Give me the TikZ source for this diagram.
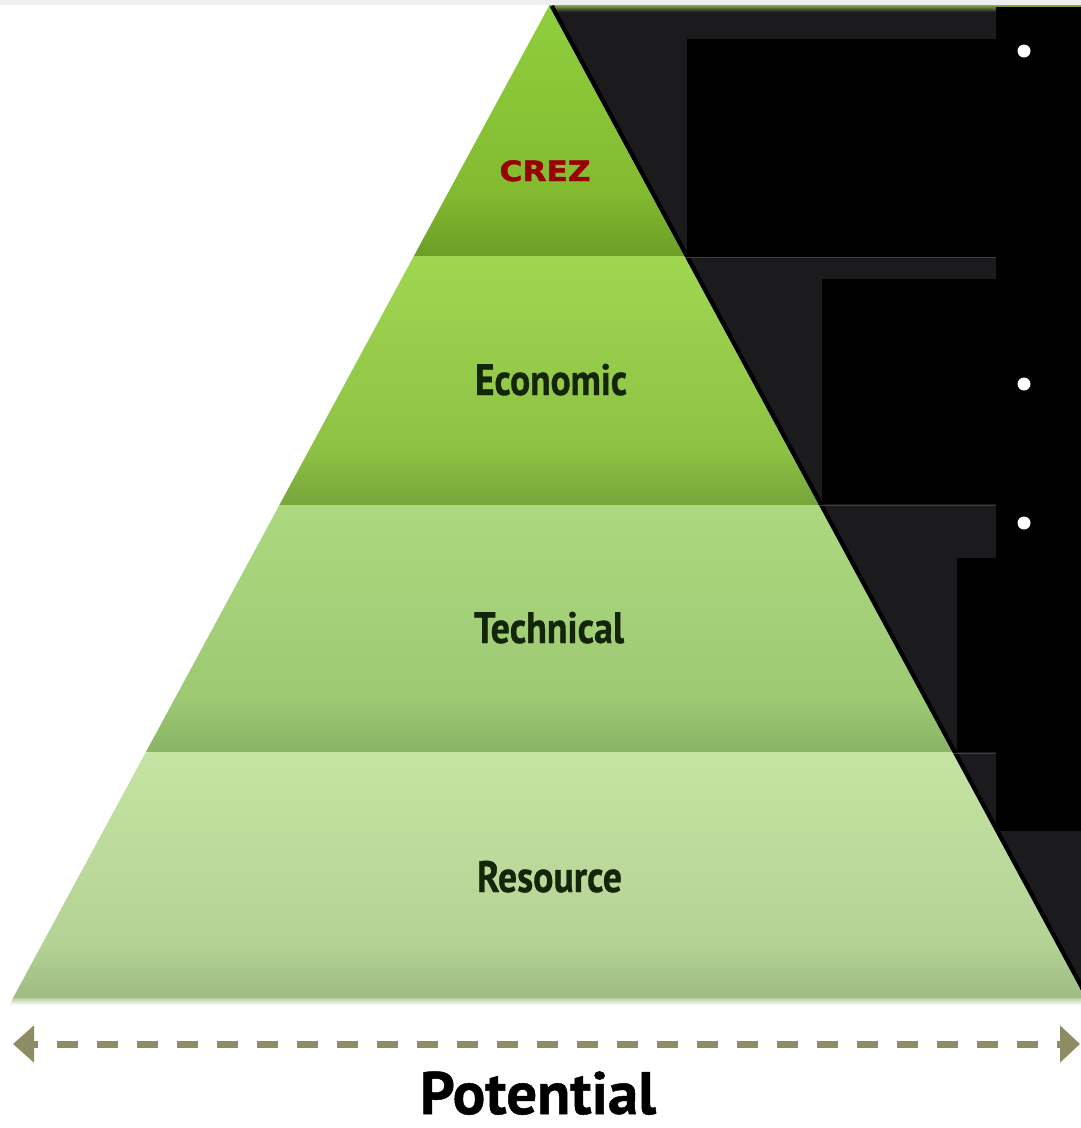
\documentclass[tikz,border=0pt]{standalone}
\usepackage{fontspec}
\usepackage{graphicx}
\newfontfamily\labfont[BoldFeatures={FakeBold=0.8}]{PT Sans}
\newfontfamily\crezfont[BoldFeatures={FakeBold=1.6}]{DejaVu Sans}
\usetikzlibrary{arrows.meta}
\definecolor{topgray}{HTML}{EEEEEE}
\definecolor{shadowgray}{HTML}{1B1B1D}
\definecolor{olivetop}{HTML}{8FA84E}
\definecolor{oliveline}{HTML}{3E4030}
\definecolor{arrowcol}{HTML}{8D8C62}
\definecolor{labcol}{HTML}{13260A}
\definecolor{crezcol}{HTML}{990000}
\definecolor{LAa}{HTML}{90CE3E}
\definecolor{LAb}{HTML}{83BB30}
\definecolor{LAc}{HTML}{6C9E26}
\definecolor{LBa}{HTML}{9FD650}
\definecolor{LBb}{HTML}{8EC245}
\definecolor{LBc}{HTML}{76A43A}
\definecolor{LCa}{HTML}{ACD97F}
\definecolor{LCb}{HTML}{9DC973}
\definecolor{LCc}{HTML}{8AB466}
\definecolor{LDa}{HTML}{C5E4A3}
\definecolor{LDb}{HTML}{B3D294}
\definecolor{LDc}{HTML}{9EBC83}
\definecolor{basestrip}{HTML}{B9D0A2}
\pgfdeclareverticalshading{layerA}{100bp}{color(0bp)=(LAc); color(25bp)=(LAc); color(38bp)=(LAb); color(75bp)=(LAa); color(100bp)=(LAa)}
\pgfdeclareverticalshading{layerB}{100bp}{color(0bp)=(LBc); color(25bp)=(LBc); color(36bp)=(LBb); color(75bp)=(LBa); color(100bp)=(LBa)}
\pgfdeclareverticalshading{layerC}{100bp}{color(0bp)=(LCc); color(25bp)=(LCc); color(36bp)=(LCb); color(75bp)=(LCa); color(100bp)=(LCa)}
\pgfdeclareverticalshading{layerD}{100bp}{color(0bp)=(LDc); color(25bp)=(LDc); color(36bp)=(LDb); color(75bp)=(LDa); color(100bp)=(LDa)}
\tikzset{
  blackbox/.style={fill=black},
  bulletdot/.style={fill=white},
  shadowline/.style={draw=oliveline, line width=1.6pt},
  layerlabel/.style={anchor=base, text=labcol, inner sep=0pt, font=\labfont\bfseries\fontsize{44}{44}\selectfont},
  potarrow/.style={draw=arrowcol, line width=7pt, dash pattern=on 21pt off 19pt, dash phase=16pt,
    {Triangle[length=21pt,width=36pt,fill=arrowcol]}-{Triangle[length=20pt,width=36pt,fill=arrowcol]}}
}
\begin{document}
\begin{tikzpicture}[x=1pt,y=-1pt]
\useasboundingbox (0,0) rectangle (1081,1128);
\fill[white] (0,0) rectangle (1081,1128);
\fill[topgray] (0,0) rectangle (1081,5);
% shadow triangle
\fill[shadowgray] (549,6) -- (1081,6) -- (1081,991) -- cycle;
\shade[top color=olivetop, bottom color=shadowgray] (549,5) -- (1081,5) -- (1081,12) -- (552.2,12) -- cycle;
\draw[black, line width=4pt] (552,6) -- (1084,991);
% layers
\shade[shading=layerA] (549,6) -- (684.1,256) -- (413.9,256) -- cycle;
\shade[shading=layerB] (413.9,256) -- (684.1,256) -- (818.6,505) -- (279.4,505) -- cycle;
\shade[shading=layerC] (279.4,505) -- (818.6,505) -- (952.1,752) -- (145.9,752) -- cycle;
\shade[shading=layerD] (145.9,752) -- (952.1,752) -- (1081,990.6) -- (1081,998) -- (13,998) -- cycle;
\shade[top color=basestrip, bottom color=white] (13,998) -- (1081,998) -- (1081,1005) -- (10,1005) -- cycle;
% thin lines in shadow
\draw[shadowline] (684.8,257.5) -- (996,257.5);
\draw[shadowline] (819.4,505.5) -- (996,505.5);
\draw[shadowline] (952.9,753.5) -- (996,753.5);
% black boxes
\fill[blackbox] (996,7) rectangle (1081,831);
\fill[blackbox] (687,39) rectangle (996,257);
\fill[blackbox] (822,279) rectangle (996,504);
\fill[blackbox] (957,558) rectangle (996,752);
% bullets
\fill[bulletdot] (1024,51) circle (6.5);
\fill[bulletdot] (1024,384) circle (6.5);
\fill[bulletdot] (1024,523) circle (6.5);
% labels
\node[anchor=base, inner sep=0pt, text=crezcol, font=\crezfont\bfseries\fontsize{28}{28}\selectfont] (crez) at (545,181) {\resizebox{91pt}{\height}{CREZ}};
\node[layerlabel] (econ) at (551,395) {\resizebox{152pt}{\height}{Economic}};
\node[layerlabel] (tech) at (549,643) {\resizebox{150pt}{\height}{Technical}};
\node[layerlabel] (res) at (549.5,892) {\resizebox{145pt}{\height}{Resource}};
% potential arrow
\coordinate (aL) at (13,1044);
\coordinate (aR) at (1080,1044);
\draw[potarrow] (aL) -- (aR);
\node[anchor=base, inner sep=0pt, text=black, font=\labfont\bfseries\fontsize{60}{60}\selectfont] (pot) at (538,1114) {\resizebox{236pt}{\height}{Potential}};
\end{tikzpicture}
\end{document}
